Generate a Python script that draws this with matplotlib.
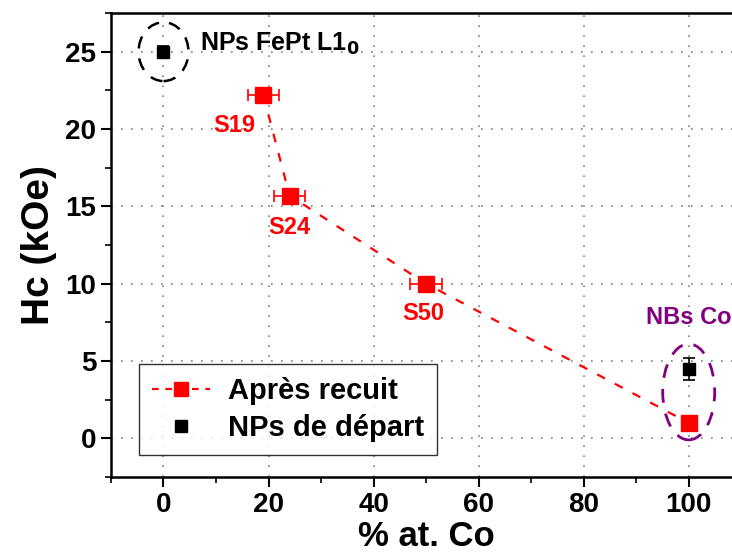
import matplotlib
matplotlib.use("Agg")
import matplotlib.pyplot as plt
from matplotlib.patches import Ellipse
from matplotlib.ticker import MultipleLocator

plt.rcParams['font.family'] = ['Liberation Sans', 'DejaVu Sans']
plt.rcParams['font.weight'] = 'bold'

# annealed samples
co_recuit = [19, 24, 50, 100]
hc_recuit = [22.2, 15.7, 10.0, 1.0]
xerr_recuit = [3, 3, 3, 0]
yerr_recuit = [0.3, 0.3, 0.3, 0.4]
noms = ["S19", "S24", "S50"]

# starting particles
co_depart = [0, 100]
hc_depart = [25.0, 4.5]
yerr_depart = [0.4, 0.7]

fig = plt.figure(figsize=(7.32, 5.59), dpi=100)
ax = fig.add_axes([0.1516, 0.1467, 0.861, 0.830])

ax.errorbar(co_recuit, hc_recuit, xerr=xerr_recuit, yerr=yerr_recuit,
            fmt="s", color="red", ms=11, ecolor="red", elinewidth=1.2,
            capsize=4, capthick=1.2, zorder=4)
ax.plot(co_recuit, hc_recuit, "--", color="red", lw=1.6, dashes=(4, 5), zorder=3)
ax.errorbar(co_depart, hc_depart, yerr=yerr_depart, fmt="s", color="black",
            ms=9, ecolor="black", elinewidth=1.2, capsize=4, capthick=1.2, zorder=4)

# legend handles
l1, = ax.plot([], [], "s--", color="red", ms=10, lw=1.6, dashes=(3, 3))
l2, = ax.plot([], [], "s", color="black", ms=9, ls="none")
leg = ax.legend([l1, l2], ["Après recuit", "NPs de départ"], loc="lower left",
                fontsize=21, frameon=True, fancybox=False, edgecolor="black",
                handlelength=2.0, handletextpad=0.6, labelspacing=0.3,
                borderpad=0.45, borderaxespad=0.0,
                bbox_to_anchor=(0.044, 0.047))
leg.get_frame().set_linewidth(1.0)

# dashed ellipses around the reference points
ax.add_patch(Ellipse((0, 25), 9.5, 3.8, fill=False, ls=(0, (5, 4)),
                     ec="black", lw=1.8, zorder=5))
ax.add_patch(Ellipse((100, 3.0), 9.9, 6.2, fill=False, ls=(0, (5, 4)),
                     ec="#800080", lw=2.0, zorder=5))

ax.text(7, 25.5, "NPs FePt L1$_\\mathbf{0}$", fontsize=18, fontweight="bold",
        ha="left", va="center")
ax.text(100, 7.8, "NBs Co", fontsize=17, fontweight="bold", color="#800080",
        ha="center", va="center")
for x, y, n, dx, dy in zip(co_recuit, hc_recuit, noms, [-5.5, 0, -0.5], [-2.0, -2.1, -1.9]):
    ax.text(x + dx, y + dy, n, fontsize=17, fontweight="bold", color="red",
            ha="center", va="center")

ax.set_xlim(-10, 110)
ax.set_ylim(-2.5, 27.5)
ax.xaxis.set_major_locator(MultipleLocator(20))
ax.xaxis.set_minor_locator(MultipleLocator(10))
ax.yaxis.set_major_locator(MultipleLocator(5))
ax.yaxis.set_minor_locator(MultipleLocator(2.5))
ax.tick_params(which="major", direction="out", length=7, width=1.5, labelsize=20)
ax.tick_params(which="minor", direction="out", length=4, width=1.2)
ax.grid(which="major", ls=(0, (1, 5)), color="gray", lw=1.2)
for s in ax.spines.values():
    s.set_linewidth(1.8)

ax.set_xlabel("% at. Co", fontsize=25, fontweight="bold", labelpad=2)
ax.set_ylabel("Hc (kOe)", fontsize=28, fontweight="bold", labelpad=6)

fig.savefig("out.png", dpi=100)
